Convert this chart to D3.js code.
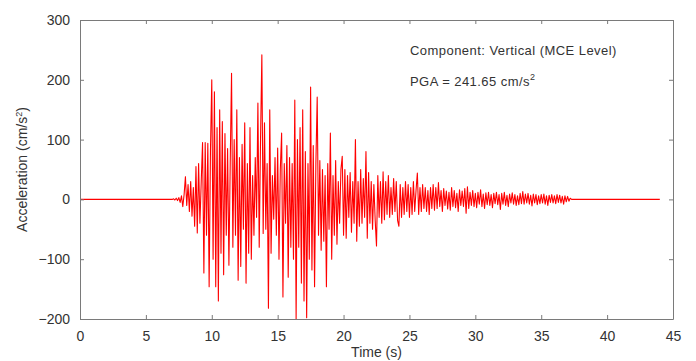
<!DOCTYPE html>
<html>
<head>
<meta charset="utf-8">
<script src="https://cdn.jsdelivr.net/npm/d3@7"></script>
<style>
  html, body { margin: 0; padding: 0; background: #fff; }
  svg { display: block; font-family: "Liberation Sans", Arial, sans-serif; }
</style>
</head>
<body>
<svg id="chart" width="696" height="361"></svg>
<script>
// Vertical acceleration record, sampled every 0.1 s from t = 7.0 s (cm/s^2)
const recordStart = 7.0;
const sampleStep = 0.1;
const accel = [
  0, 1, -1, 2, -2, 3, -5, 6, -12, 8,                   // 7 s
  38, -10, 25, -20, 30, -28, 20, -45, 55, -56,         // 8 s
  60, -40, 30, 95, -123, 95, -60, 94, -146, 80,        // 9 s
  200, -100, 180, -146, 120, -170, 150, -90, 130, -126,// 10 s
  110, -60, 85, -110, 60, 211, -80, 100, -60, 150,     // 11 s
  -135, 70, -112, 92, -50, 128, -140, 60, -90, 120,    // 12 s
  -100, 40, -60, 70, -30, 161, -80, 100, 241.65, -57,  // 13 s
  128, -50, 60, -182, 150, -90, 40, -33, 70, -60,      // 14 s
  86, -100, 50, 111, -163, 60, -40, 90, -130, 70,      // 15 s
  -80, 60, -100, 166, -200, 100, -80, 120, -140, 150,  // 16 s
  -170, 80, -198, 60, -100, 188, -118, 90, -146, 60,   // 17 s
  171, -60, 65, -85, 50, -70, 40, -146, 60, -50,       // 18 s
  111, -100, 40, -60, 65, -75, 30, -40, 50, 72,        // 19 s
  -60, 50, -65, 40, -30, 45, -55, 30, -40, 100,        // 20 s
  -70, 30, -45, 50, -40, 35, -30, 80, -65, 45,         // 21 s
  -40, 30, -50, 25, -35, -78, 40, -30, 30, -40,        // 22 s
  46, -34, 30, -25, 40, -30, 20, -25, 35, -20,         // 23 s
  30, -35, -45, 25, -30, 20, -25, 30, -20, 25,         // 24 s
  -30, 20, -25, 30, -20, 15, 44, -25, 20, -20,         // 25 s
  25, -15, 20, -20, 15, -25, 20, -15, 25, -18,         // 26 s
  20, -15, 28, -12, 15, -20, 18, -10, 14, -16,         // 27 s
  12, -18, 20, -12, 15, -14, 10, -20, 16, -10,         // 28 s
  14, -12, 18, -23, 21, -15, 12, -10, 15, -12,         // 29 s
  10, -14, 12, -8, 16, -12, 9, -15, 11, -9,            // 30 s
  12, -10, 8, -14, 10, -7, 12, -9, 8, -17,             // 31 s
  10, -8, 12, -10, 7, -12, 9, -6, 11, -8,              // 32 s
  8, -10, 6, -9, 10, -7, 13, -8, 9, -6,                // 33 s
  10, -8, 7, -11, 9, -6, 8, -9, 6, -7,                 // 34 s
  8, -6, 9, -8, 6, -10, 7, -5, 8, -6,                  // 35 s
  6, -7, 8, -5, 7, -6, 5, -8, 6, -4,                   // 36 s
  5, -3, 2, 0                                          // 37 s
];
const recordEnd = 44.0;

const xTicks = [0, 5, 10, 15, 20, 25, 30, 35, 40, 45];
const yTicks = [-200, -100, 0, 100, 200, 300];
const annotation = "Component: Vertical (MCE Level)";
const pgaValue = 241.65;

// Build the time series: quiet lead-in, sampled record, quiet tail
const series = [{ t: 0, a: 0 }];
accel.forEach((a, i) => series.push({ t: recordStart + i * sampleStep, a }));
series.push({ t: recordEnd, a: 0 });

const svg = d3.select("#chart");
const plot = { left: 80, right: 673, top: 20, bottom: 319 };

const x = d3.scaleLinear().domain([0, 45]).range([plot.left, plot.right]);
const y = d3.scaleLinear().domain([-200, 300]).range([plot.bottom, plot.top]);

const axisColor = "#7a7a7a";
const textColor = "#333";

// Clip the trace to the frame
svg.append("defs").append("clipPath").attr("id", "frame")
  .append("rect")
  .attr("x", plot.left).attr("y", plot.top)
  .attr("width", plot.right - plot.left).attr("height", plot.bottom - plot.top);

svg.append("path")
  .datum(series)
  .attr("clip-path", "url(#frame)")
  .attr("fill", "none")
  .attr("stroke", "#ff0000")
  .attr("stroke-width", 1.1)
  .attr("stroke-linejoin", "round")
  .attr("d", d3.line().x(d => x(d.t)).y(d => y(d.a)));

// Axes with inward ticks on all four sides
function styleAxis(g, showLabels) {
  g.select(".domain").attr("stroke", axisColor).attr("stroke-width", 1);
  g.selectAll(".tick line").attr("stroke", axisColor);
  g.selectAll(".tick text")
    .attr("fill", textColor)
    .style("font-size", "14px")
    .style("display", showLabels ? null : "none");
}

svg.append("g")
  .attr("transform", `translate(0,${plot.bottom})`)
  .call(d3.axisBottom(x).tickValues(xTicks).tickSizeInner(-4).tickSizeOuter(0).tickPadding(12))
  .call(g => styleAxis(g, true));

svg.append("g")
  .attr("transform", `translate(0,${plot.top})`)
  .call(d3.axisTop(x).tickValues(xTicks).tickSizeInner(-4).tickSizeOuter(0))
  .call(g => styleAxis(g, false));

svg.append("g")
  .attr("transform", `translate(${plot.left},0)`)
  .call(d3.axisLeft(y).tickValues(yTicks).tickSizeInner(-4).tickSizeOuter(0).tickPadding(10))
  .call(g => styleAxis(g, true));

svg.append("g")
  .attr("transform", `translate(${plot.right},0)`)
  .call(d3.axisRight(y).tickValues(yTicks).tickSizeInner(-4).tickSizeOuter(0))
  .call(g => styleAxis(g, false));

svg.selectAll("g").attr("font-family", null);

// Axis titles
svg.append("text")
  .attr("x", (plot.left + plot.right) / 2)
  .attr("y", 357)
  .attr("text-anchor", "middle")
  .attr("fill", textColor)
  .style("font-size", "14px")
  .text("Time (s)");

const yTitle = svg.append("text")
  .attr("transform", `translate(27,${(plot.top + plot.bottom) / 2}) rotate(-90)`)
  .attr("text-anchor", "middle")
  .attr("fill", textColor)
  .style("font-size", "14px");
yTitle.append("tspan").text("Acceleration (cm/s");
yTitle.append("tspan").attr("dy", -5).style("font-size", "9px").text("2");
yTitle.append("tspan").attr("dy", 5).text(")");

// Record annotation
svg.append("text")
  .attr("x", 410).attr("y", 55)
  .attr("fill", textColor)
  .style("font-size", "13px")
  .style("letter-spacing", "0.45px")
  .text(annotation);

const pga = svg.append("text")
  .attr("x", 410).attr("y", 86)
  .attr("fill", textColor)
  .style("font-size", "13px")
  .style("letter-spacing", "0.45px");
pga.append("tspan").text(`PGA = ${pgaValue.toFixed(2)} cm/s`);
pga.append("tspan").attr("dy", -6).style("font-size", "9px").text("2");
</script>
</body>
</html>
